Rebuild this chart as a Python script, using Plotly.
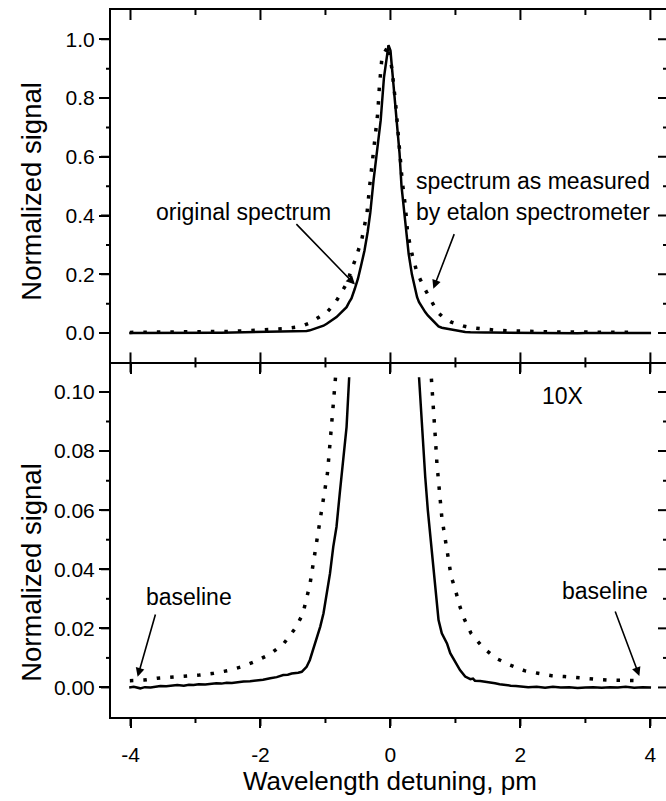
import plotly.graph_objects as go

# Original spectrum (solid curve): wavelength detuning (pm) vs normalized signal
SOLID_X = [-4.02, -3.95, -3.85, -3.78, -3.69, -3.60, -3.54, -3.45, -3.35, -3.28,
           -3.18, -3.10, -3.03, -2.95, -2.85, -2.77, -2.68, -2.60, -2.52, -2.44,
           -2.35, -2.26, -2.16, -2.06, -1.96, -1.85, -1.75, -1.65, -1.58, -1.52,
           -1.47, -1.42, -1.365, -1.29, -1.24, -1.19, -1.135, -1.08, -1.03, -0.98,
           -0.93, -0.88, -0.83, -0.78, -0.727, -0.675, -0.635, -0.60, -0.55, -0.50,
           -0.45, -0.40, -0.35, -0.31, -0.26, -0.21, -0.15, -0.10, -0.03, 0.00,
           0.05, 0.10, 0.14, 0.17, 0.22, 0.28, 0.33, 0.38, 0.41, 0.44,
           0.48, 0.535, 0.575, 0.61, 0.69, 0.74, 0.79, 0.87, 0.92, 0.995,
           1.07, 1.15, 1.23, 1.27, 1.30, 1.38, 1.46, 1.54, 1.61, 1.68,
           1.76, 1.85, 1.93, 2.02, 2.12, 2.25, 2.38, 2.50, 2.62, 2.75,
           2.88, 3.00, 3.12, 3.25, 3.38, 3.50, 3.62, 3.75, 3.88, 4.01]
SOLID_Y = [0.0000, 0.0002, -0.0003, 0.0001, 0.0000, 0.0003, 0.0005, 0.0004, 0.0007, 0.0008,
           0.0006, 0.0009, 0.0008, 0.0011, 0.0010, 0.0012, 0.0014, 0.0013, 0.0016, 0.0015,
           0.0018, 0.0020, 0.0021, 0.0023, 0.0026, 0.0031, 0.0035, 0.0042, 0.0043, 0.0047,
           0.0048, 0.0050, 0.0053, 0.0070, 0.0093, 0.0127, 0.0161, 0.0206, 0.0251, 0.0318,
           0.0386, 0.0476, 0.0544, 0.0657, 0.0769, 0.0882, 0.1050, 0.118, 0.150, 0.185,
           0.232, 0.280, 0.345, 0.410, 0.520, 0.612, 0.725, 0.870, 0.980, 0.962,
           0.840, 0.726, 0.612, 0.500, 0.386, 0.270, 0.200, 0.150, 0.122, 0.1050,
           0.0900, 0.0713, 0.0600, 0.0521, 0.0341, 0.0228, 0.0183, 0.0149, 0.0116, 0.0087,
           0.0059, 0.0037, 0.0028, 0.0030, 0.0023, 0.0022, 0.0020, 0.0016, 0.0014, 0.0011,
           0.0008, 0.0006, 0.0005, 0.0003, 0.0001, 0.0002, -0.0001, 0.0002, 0.0000, 0.0001,
           -0.0002, 0.0000, 0.0001, -0.0001, 0.0001, 0.0000, 0.0002, -0.0001, 0.0001, 0.0000]

# Spectrum as measured by the etalon spectrometer (dotted curve)
ETALON_X = [-4.01, -3.79, -3.59, -3.36, -3.15, -2.94, -2.72, -2.50, -2.29, -2.06,
            -1.85, -1.64, -1.465, -1.35, -1.24, -1.17, -1.095, -1.03, -0.97, -0.93,
            -0.89, -0.865, -0.845, -0.82, -0.75, -0.67, -0.60, -0.54, -0.44, -0.36,
            -0.32, -0.27, -0.23, -0.195, -0.17, -0.13, -0.03, 0.025, 0.08, 0.11,
            0.15, 0.18, 0.23, 0.265, 0.33, 0.41, 0.53, 0.60, 0.63, 0.665,
            0.69, 0.715, 0.75, 0.79, 0.83, 0.87, 0.935, 1.00, 1.06, 1.14,
            1.24, 1.42, 1.62, 1.84, 2.06, 2.27, 2.48, 2.68, 2.91, 3.14,
            3.35, 3.55, 3.78]
ETALON_Y = [0.0023, 0.0025, 0.0031, 0.0034, 0.0039, 0.0042, 0.0048, 0.0057, 0.0070, 0.0090,
            0.0113, 0.0149, 0.0200, 0.0248, 0.0347, 0.0442, 0.0538, 0.0634, 0.0724, 0.0826,
            0.0920, 0.1010, 0.1050, 0.114, 0.140, 0.170, 0.216, 0.250, 0.320, 0.410,
            0.500, 0.600, 0.690, 0.750, 0.840, 0.940, 0.980, 0.895, 0.780, 0.690,
            0.600, 0.520, 0.430, 0.340, 0.270, 0.205, 0.150, 0.118, 0.1045, 0.0950,
            0.0848, 0.0758, 0.0662, 0.0577, 0.0520, 0.0470, 0.0375, 0.0330, 0.0279, 0.0230,
            0.0183, 0.0136, 0.0099, 0.0076, 0.0057, 0.0048, 0.0040, 0.0037, 0.0031, 0.0028,
            0.0025, 0.0023, 0.0023]

X_TICKS = [-4, -2, 0, 2, 4]
X_TICK_TEXT = ["-4", "-2", "0", "2", "4"]
X_MINOR_TICKS = [-3, -1, 1, 3]
TOP_Y_TICKS = [0.0, 0.2, 0.4, 0.6, 0.8, 1.0]
TOP_Y_MINOR_TICKS = [0.1, 0.3, 0.5, 0.7, 0.9]
BOTTOM_Y_TICKS = [0.00, 0.02, 0.04, 0.06, 0.08, 0.10]
BOTTOM_Y_MINOR_TICKS = [0.01, 0.03, 0.05, 0.07, 0.09]

X_RANGE = [-4.3, 4.24]
TOP_Y_RANGE = [-0.1, 1.1]
BOTTOM_Y_RANGE = [-0.01, 0.11]
ZOOM_LIMIT = 0.1055  # the 10X panel shows the wings only up to this level

FONT = "Liberation Sans, Arial, Helvetica, sans-serif"
BLACK = "black"


def clipped(values, limit):
    return [v if v <= limit else None for v in values]


fig = go.Figure()

# top panel: full spectra
fig.add_trace(go.Scatter(x=ETALON_X, y=ETALON_Y, xaxis="x2", yaxis="y2", mode="lines",
                         line=dict(color=BLACK, width=3.5, dash="3.5px,10px")))
fig.add_trace(go.Scatter(x=SOLID_X, y=SOLID_Y, xaxis="x2", yaxis="y2", mode="lines",
                         line=dict(color=BLACK, width=2.5)))

# bottom panel: the same spectra magnified 10X
fig.add_trace(go.Scatter(x=ETALON_X, y=clipped(ETALON_Y, ZOOM_LIMIT), xaxis="x", yaxis="y",
                         mode="lines", connectgaps=False,
                         line=dict(color=BLACK, width=3.5, dash="3.5px,10px")))
fig.add_trace(go.Scatter(x=SOLID_X, y=clipped(SOLID_Y, ZOOM_LIMIT), xaxis="x", yaxis="y",
                         mode="lines", connectgaps=False,
                         line=dict(color=BLACK, width=2.5)))

tick_font = dict(family=FONT, size=21, color=BLACK)
split = 0.5015

common = dict(showgrid=False, zeroline=False, automargin=False, showline=True,
              linecolor=BLACK, linewidth=2, ticks="outside", ticklen=10, tickwidth=2,
              tickcolor=BLACK, tickfont=tick_font)

fig.update_layout(
    template="none",
    width=666, height=801,
    margin=dict(l=111, r=0, t=10, b=84, autoexpand=False),
    paper_bgcolor="white", plot_bgcolor="white",
    showlegend=False,
    font=dict(family=FONT, color=BLACK),
    xaxis=dict(common, anchor="y", domain=[0, 1], range=X_RANGE, tickmode="array",
               tickvals=X_TICKS, ticktext=X_TICK_TEXT, ticklen=9, ticklabelstandoff=9),
    xaxis2=dict(common, anchor="y2", matches="x", range=X_RANGE, tickmode="array",
                tickvals=X_TICKS, showticklabels=False, mirror=True),
    yaxis=dict(common, domain=[0, split], anchor="x", range=BOTTOM_Y_RANGE,
               tickmode="array", tickvals=BOTTOM_Y_TICKS, tickformat=".2f"),
    yaxis2=dict(common, domain=[split, 1], anchor="x2", range=TOP_Y_RANGE,
                tickmode="array", tickvals=TOP_Y_TICKS, tickformat=".1f"),
)

# tick marks on every edge of both frames, built from the tick value lists
shapes = []


def tick_y(yref, xanchor, value, x0, x1):
    shapes.append(dict(type="line", xref="x domain" if yref == "y" else "x2 domain",
                       xsizemode="pixel", xanchor=xanchor, x0=x0, x1=x1,
                       yref=yref, y0=value, y1=value,
                       line=dict(color=BLACK, width=2), layer="above"))


def tick_x(xref, yref, yanchor, value, y0, y1):
    shapes.append(dict(type="line", xref=xref, x0=value, x1=value,
                       yref=yref, ysizemode="pixel", yanchor=yanchor, y0=y0, y1=y1,
                       line=dict(color=BLACK, width=2), layer="above"))


for yref, majors, minors in [("y2", TOP_Y_TICKS, TOP_Y_MINOR_TICKS),
                             ("y", BOTTOM_Y_TICKS, BOTTOM_Y_MINOR_TICKS)]:
    for v in majors:
        tick_y(yref, 0, v, -10, 0)      # left, outward
        tick_y(yref, 1, v, -8, 0)       # right, inward
    for v in minors:
        tick_y(yref, 0, v, -5, 0)
        tick_y(yref, 1, v, -3, 0)

for v in X_TICKS:
    tick_x("x", "y domain", 0, v, 0, -9)          # bottom, outward
    tick_x("x", "y domain", 1, v, -10, 10)        # shared middle edge, crossing
    tick_x("x2", "y2 domain", 1, v, 0, -10)       # top, inward
for v in X_MINOR_TICKS:
    tick_x("x", "y domain", 0, v, 0, -6)
    tick_x("x", "y domain", 1, v, -5, 5)
    tick_x("x2", "y2 domain", 1, v, 0, -5)

label_font = dict(family=FONT, size=23, color=BLACK)
ytitle_font = dict(family=FONT, size=27.5, color=BLACK)
xtitle_font = dict(family=FONT, size=26, color=BLACK)

annotations = [
    # axis titles
    dict(text="Normalized signal", xref="paper", yref="paper", x=-0.1423, y=0.743,
         textangle=-90, showarrow=False, font=ytitle_font, xanchor="center", yanchor="middle"),
    dict(text="Normalized signal", xref="paper", yref="paper", x=-0.1423, y=0.204,
         textangle=-90, showarrow=False, font=ytitle_font, xanchor="center", yanchor="middle"),
    dict(text="Wavelength detuning, pm", xref="paper", yref="paper", x=0.503, y=-0.0905,
         showarrow=False, font=xtitle_font, xanchor="center", yanchor="middle"),
    # top panel labels
    dict(text="original spectrum", xref="x2", yref="y2", x=-3.64, y=0.413,
         showarrow=False, font=label_font, xanchor="left", yanchor="middle"),
    dict(text="spectrum as measured", xref="x2", yref="y2", x=4.02, y=0.518,
         showarrow=False, font=label_font, xanchor="right", yanchor="middle"),
    dict(text="by etalon spectrometer", xref="x2", yref="y2", x=4.02, y=0.413,
         showarrow=False, font=label_font, xanchor="right", yanchor="middle"),
    # bottom panel labels
    dict(text="10X", xref="x", yref="y", x=2.64, y=0.0985,
         showarrow=False, font=label_font, xanchor="center", yanchor="middle"),
    dict(text="baseline", xref="x", yref="y", x=-3.1, y=0.0306,
         showarrow=False, font=label_font, xanchor="center", yanchor="middle"),
    dict(text="baseline", xref="x", yref="y", x=3.30, y=0.0328,
         showarrow=False, font=label_font, xanchor="center", yanchor="middle"),
]

arrow_style = dict(text="", showarrow=True, arrowhead=2, arrowsize=1.1, arrowwidth=1.6,
                   arrowcolor=BLACK, standoff=0, startstandoff=0)
arrows = [
    dict(xref="x2", yref="y2", axref="x2", ayref="y2", x=-0.546, y=0.165, ax=-1.47, ay=0.376),
    dict(xref="x2", yref="y2", axref="x2", ayref="y2", x=0.66, y=0.151, ax=0.99, ay=0.342),
    dict(xref="x", yref="y", axref="x", ayref="y", x=-3.89, y=0.00365, ax=-3.61, ay=0.0252),
    dict(xref="x", yref="y", axref="x", ayref="y", x=3.83, y=0.00389, ax=3.45, ay=0.0262),
]
for a in arrows:
    a.update(arrow_style)
    annotations.append(a)

fig.update_layout(annotations=annotations, shapes=shapes)

fig.write_html("out.html")
